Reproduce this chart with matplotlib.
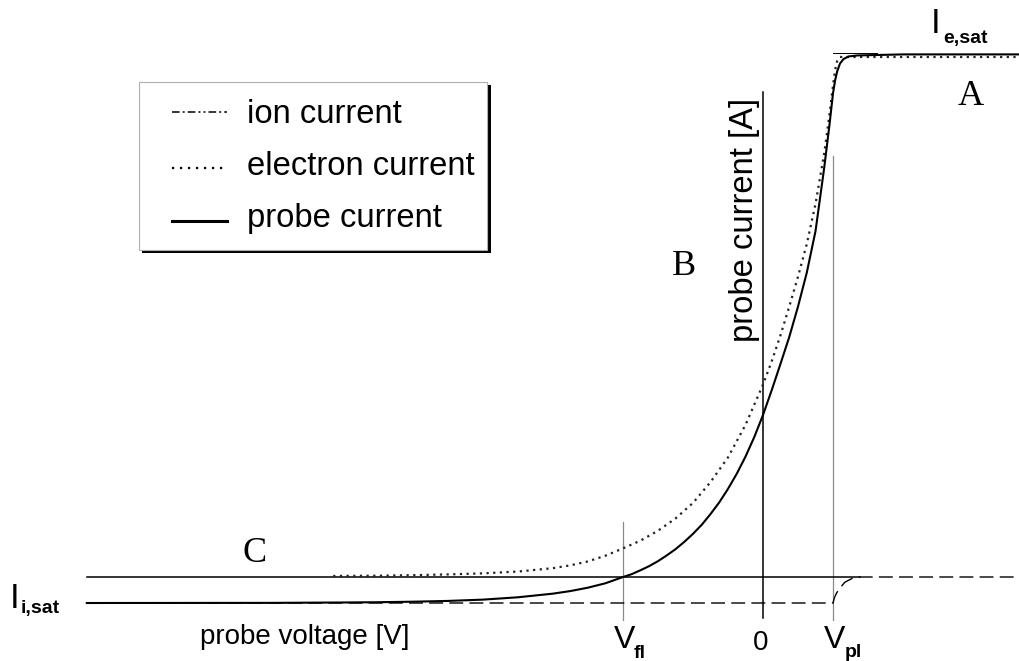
import matplotlib
matplotlib.use("Agg")
import matplotlib.pyplot as plt
from matplotlib.lines import Line2D
from matplotlib.patches import Rectangle

# ---------------- data ----------------
V_FL = -2.0      # floating potential
V_PL = 1.0       # plasma potential
I_ISAT = -1.0    # ion saturation current
I_ESAT = 20.15   # electron saturation current

voltage_probe = [-9.66, -7.0, -6.0, -5.5, -5.0, -4.5, -4.0, -3.5, -3.0, -2.75,
                 -2.5, -2.25, -2.0, -1.875, -1.75, -1.625, -1.5, -1.375, -1.25, -1.125,
                 -1.0, -0.875, -0.75, -0.625, -0.5, -0.375, -0.25, -0.125, 0.0, 0.125,
                 0.25, 0.375, 0.5, 0.625, 0.75, 0.875, 0.95, 1.0, 1.03, 1.06,
                 1.1, 1.15, 1.22, 1.35, 2.0, 3.66]
probe_current = [-1.0, -0.995, -0.98, -0.97, -0.95, -0.92, -0.87, -0.78, -0.64, -0.54,
                 -0.41, -0.24, 0.0, 0.11, 0.26, 0.42, 0.61, 0.83, 1.07, 1.35,
                 1.66, 2.01, 2.42, 2.87, 3.39, 3.97, 4.63, 5.38, 6.23, 7.19,
                 8.2, 9.23, 10.4, 11.7, 13.3, 15.75, 17.4, 18.6, 19.1, 19.45,
                 19.75, 19.92, 20.02, 20.06, 20.1, 20.1]

voltage_electron = [-6.14, -5.5, -5.0, -4.5, -4.0, -3.5, -3.0, -2.75, -2.5, -2.25,
                    -2.0, -1.75, -1.5, -1.25, -1.0, -0.75, -0.5, -0.25, 0.0, 0.125,
                    0.25, 0.375, 0.5, 0.625, 0.75, 0.875, 0.95, 1.0, 1.03, 1.06,
                    1.1, 3.66]
electron_current = [0.04, 0.05, 0.07, 0.1, 0.14, 0.21, 0.34, 0.45, 0.6, 0.82,
                    1.1, 1.4, 1.78, 2.25, 2.85, 3.65, 4.6, 5.85, 7.4, 8.3,
                    9.3, 10.4, 11.55, 12.8, 14.35, 16.3, 17.8, 18.9, 19.5, 19.85,
                    20.0, 20.0]

voltage_ion = [-9.66, 1.0, 1.02, 1.05, 1.1, 1.17, 1.27, 1.39, 3.66]
ion_current = [-1.0, -1.0, -0.8, -0.62, -0.42, -0.2, -0.06, 0.0, 0.0]

legend_labels = ["ion current", "electron current", "probe current"]
region_labels = ["A", "B", "C"]
region_pos = [(2.96, 18.15), (-1.13, 11.6), (-7.27, 0.58)]  # (V, I) of label baselines

# ---------------- figure ----------------
W, H = 1019, 661
fig = plt.figure(figsize=(W / 100, H / 100), dpi=100)
ax = fig.add_axes([0, 0, 1, 1])
ax.set_xlim(-763 / 70, (W - 763) / 70)
ax.set_ylim((577 - H) / 26, 577 / 26)
ax.axis("off")

SANS = ["Liberation Sans", "DejaVu Sans"]
SERIF = ["Liberation Serif", "DejaVu Serif"]


def ftext(x, y, s, **kw):
    """text placed in figure pixel coords (origin top-left)"""
    return fig.text(x / W, 1 - y / H, s, **kw)


# axes lines
ax.plot([-9.66, 1.39], [0, 0], color="black", lw=1.1, zorder=2)
ax.plot([0, 0], [-1.58, 18.65], color="black", lw=1.1, zorder=2)
ax.plot([V_FL, V_FL], [-1.65, 2.12], color="#8a8a8a", lw=0.9, zorder=1)
ax.plot([V_PL, V_PL], [-1.65, 16.2], color="#8a8a8a", lw=0.9, zorder=1)
ax.plot([V_PL, 1.63], [I_ESAT, I_ESAT], color="black", lw=0.7, zorder=2)

# curves
ax.plot(voltage_ion, ion_current, color="black", lw=1.0,
        linestyle=(0, (10, 4.5)), zorder=3)
ax.plot(voltage_electron, electron_current, color="#222222", lw=1.6,
        linestyle=(0, (1, 2)), zorder=4)
ax.plot(voltage_probe, probe_current, color="black", lw=1.5, zorder=5,
        solid_joinstyle="round")

# region letters
for lab, (vx, iy) in zip(region_labels, region_pos):
    ax.text(vx, iy, lab, family=SERIF, fontsize=26, ha="center", va="baseline")

# ---------------- legend (drawn by hand) ----------------
fig.patches.append(Rectangle((142 / W, 1 - 253 / H), (491 - 142) / W, (253 - 85) / H,
                             transform=fig.transFigure, facecolor="black",
                             edgecolor="none", zorder=10))
fig.patches.append(Rectangle((139 / W, 1 - 250 / H), (487 - 139) / W, (250 - 82) / H,
                             transform=fig.transFigure, facecolor="white",
                             edgecolor="#b0b0b0", lw=0.8, zorder=11))
handle_styles = [
    dict(color="black", lw=1.1, linestyle=(0, (5, 2, 1.3, 2, 5, 2, 1.3, 2, 1.3, 2))),
    dict(color="black", lw=1.6, linestyle=(0, (1, 2.6))),
    dict(color="black", lw=2.2, linestyle="-"),
]
handle_y = [112, 168, 221]
text_base = [123, 175, 227]
for lab, st, hy, tb in zip(legend_labels, handle_styles, handle_y, text_base):
    fig.add_artist(Line2D([172 / W, 227 / W], [1 - hy / H, 1 - hy / H],
                          transform=fig.transFigure, zorder=12, **st))
    ftext(247, tb, lab, family=SANS, fontsize=23.6, va="baseline", ha="left", zorder=12)

# ---------------- axis texts ----------------
ftext(200, 644, "probe voltage [V]", family=SANS, fontsize=20, va="baseline", ha="left")
ftext(745, 220, "probe current [A]", family=SANS, fontsize=23.6, rotation=90,
      va="center", ha="center")

ftext(624.5, 648, "V", family=SANS, fontsize=23, ha="center", va="baseline")
ftext(634, 658, "fl", family=SANS, fontsize=14, weight="bold", ha="left", va="baseline")
ftext(761, 650, "0", family=SANS, fontsize=20, ha="center", va="baseline")
ftext(835, 648, "V", family=SANS, fontsize=23, ha="center", va="baseline")
ftext(845, 657, "pl", family=SANS, fontsize=14, weight="bold", ha="left", va="baseline")

ftext(10, 608, "I", family=SANS, fontsize=25, ha="left", va="baseline")
ftext(21, 613, "i,sat", family=SANS, fontsize=14, weight="bold", ha="left", va="baseline")
ftext(931, 33, "I", family=SANS, fontsize=25, ha="left", va="baseline")
ftext(943, 43, "e,sat", family=SANS, fontsize=14, weight="bold", ha="left", va="baseline")

fig.savefig("out.png", dpi=100)
